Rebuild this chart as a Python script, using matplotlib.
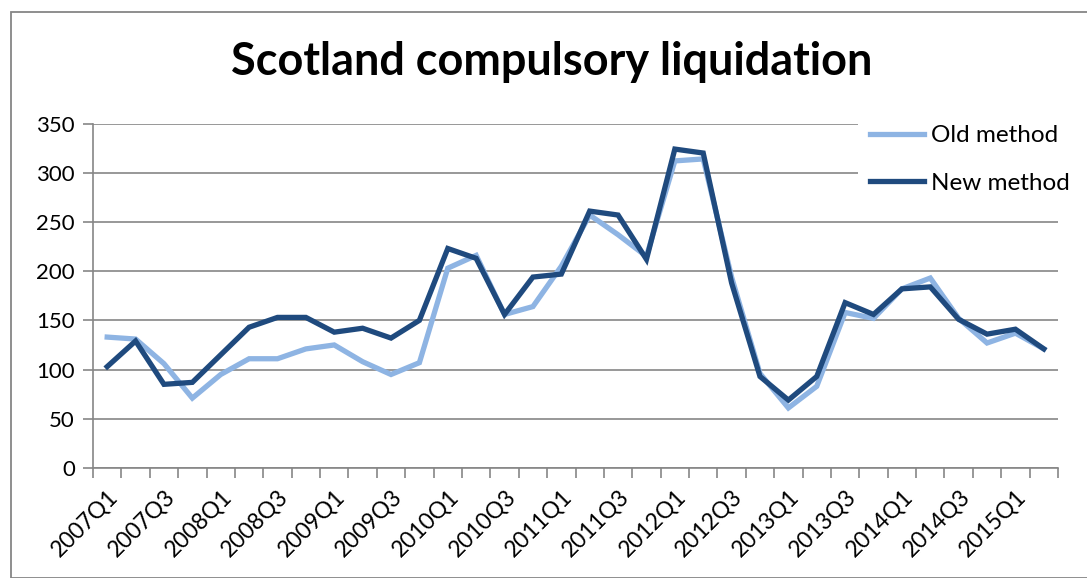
import numpy as np
import matplotlib
matplotlib.use("Agg")
import matplotlib.pyplot as plt
from matplotlib.patches import Rectangle

# Quarterly compulsory liquidations in Scotland, two counting methods
quarters = [f"{y}Q{q}" for y in range(2007, 2016) for q in range(1, 5)][:34]
old_method = [133, 131, 106, 71, 95, 111, 111, 121, 125, 108, 95, 107,
              203, 216, 156, 164, 205, 257, 237, 215, 312, 314, 194, 96,
              61, 83, 158, 152, 182, 193, 152, 127, 137, 121]
new_method = [103, 129, 85, 87, 115, 143, 153, 153, 138, 142, 132, 150,
              223, 213, 156, 194, 197, 261, 257, 212, 324, 320, 188, 93,
              69, 93, 168, 156, 182, 184, 151, 136, 141, 121]
y_ticks = [0, 50, 100, 150, 200, 250, 300, 350]
series_labels = ["Old method", "New method"]

FONT = "Lato"
GRID = "#868686"
OLD_COLOR = "#8EB4E3"
NEW_COLOR = "#1F4A7E"

W, H = 1087, 578
fig = plt.figure(figsize=(W / 100, H / 100), dpi=100)

# chart-area border
fig.patches.append(Rectangle((11 / W, 0), 1.2, 1 - 12 / H, transform=fig.transFigure,
                             fill=False, edgecolor=GRID, linewidth=1.3))

left, right = 93 / W, 1058 / W
bottom, top = 1 - 468 / H, 1 - 123.5 / H
ax = fig.add_axes([left, bottom, right - left, top - bottom])

x = np.arange(len(quarters))
ax.plot(x, old_method, color=OLD_COLOR, lw=3.8, solid_joinstyle="miter",
        label=series_labels[0], zorder=3)
ax.plot(x, new_method, color=NEW_COLOR, lw=3.8, solid_joinstyle="miter",
        label=series_labels[1], zorder=4)

ax.set_xlim(-0.5, len(quarters) - 0.5)
ax.set_ylim(0, 350)

for s in ["top", "right"]:
    ax.spines[s].set_visible(False)
for s in ["left", "bottom"]:
    ax.spines[s].set_color(GRID)
    ax.spines[s].set_linewidth(1.2)

ax.set_yticks(y_ticks)
ax.set_yticklabels([str(v) for v in y_ticks], fontsize=16, family=FONT)
ax.yaxis.grid(True, color=GRID, lw=1.2)
ax.set_axisbelow(True)
ax.tick_params(axis="y", length=7, width=1.2, color=GRID, pad=6)

# category boundaries carry the tick marks; labels sit on every other category
ax.set_xticks(np.arange(-0.5, len(quarters), 1.0))
ax.set_xticklabels([])
ax.tick_params(axis="x", which="major", length=7, width=1.2, color=GRID, direction="out")
ax.set_xticks(x[::2], minor=True)
ax.set_xticklabels(quarters[::2], minor=True, rotation=45, ha="right", va="top",
                   rotation_mode="anchor", fontsize=16.5, family=FONT)
ax.tick_params(axis="x", which="minor", length=0, pad=13)

fig.text(552 / W, 1 - 62 / H, "Scotland compulsory liquidation", ha="center", va="center",
         fontsize=32.4, fontweight="bold", family=FONT, color="black")

leg = ax.legend(loc="upper left", bbox_to_anchor=(846 / W, 1 - 101 / H),
                bbox_transform=fig.transFigure, frameon=True, facecolor="white",
                edgecolor="none", framealpha=1, fancybox=False,
                prop={"family": FONT, "size": 17.5}, handlelength=2.2,
                handletextpad=0.3, labelspacing=1.08, borderpad=0.5)
leg.set_zorder(10)

fig.savefig("out.png", dpi=100, facecolor="white")
